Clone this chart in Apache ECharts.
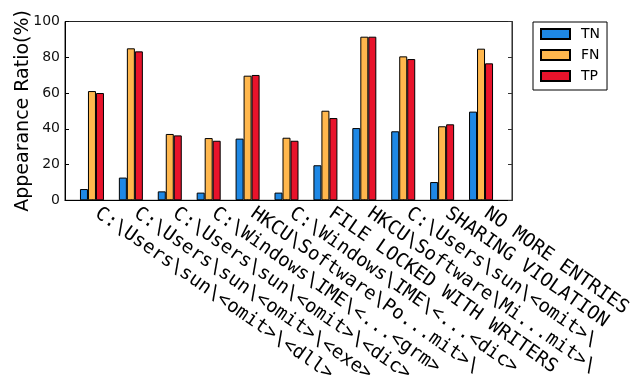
<!DOCTYPE html>
<html>
<head>
<meta charset="utf-8">
<script src="https://cdn.jsdelivr.net/npm/echarts@6/dist/echarts.min.js"></script>
<style>
  html, body { margin: 0; padding: 0; background: #fff; }
  #chart { width: 632px; height: 376px; }
</style>
</head>
<body>
<div id="chart"></div>
<script>
// Event targets (x axis categories)
const categories = [
  'C:\\Users\\sun\\<omit>\\<dll>',
  'C:\\Users\\sun\\<omit>\\<exe>',
  'C:\\Users\\sun\\<omit>\\<dic>',
  'C:\\Windows\\IME\\<...<grm>',
  'HKCU\\Software\\Po...mit>\\',
  'C:\\Windows\\IME\\<...<dic>',
  'FILE LOCKED WITH WRITERS',
  'HKCU\\Software\\Mi...mit>\\',
  'C:\\Users\\sun\\<omit>\\',
  'SHARING VIOLATION',
  'NO MORE ENTRIES'
];

// Appearance ratio (%) per outcome
const tnValues = [6.3, 12.7, 5.0, 4.3, 34.5, 4.3, 19.6, 40.4, 38.6, 10.2, 49.6];
const fnValues = [61.1, 85.0, 37.1, 34.8, 69.7, 35.0, 50.1, 91.5, 80.5, 41.4, 84.8];
const tpValues = [60.0, 83.3, 36.3, 33.3, 70.1, 33.3, 46.0, 91.5, 79.0, 42.5, 76.6];

// Y axis ticks
const yTicks = [0, 20, 40, 60, 80, 100];

const seriesNames = ['TN', 'FN', 'TP'];
const seriesColors = ['#1e88e5', '#ffb74d', '#e8132b'];
const seriesData = [tnValues, fnValues, tpValues];

const chart = echarts.init(document.getElementById('chart'), null, { renderer: 'canvas' });

const option = {
  animation: false,
  backgroundColor: '#ffffff',
  grid: [
    // frame + y axis
    { left: 65, right: 120, top: 21.5, bottom: 175.7, show: true, borderColor: '#222', borderWidth: 1,
      containLabel: false, outerBoundsMode: 'none' },
    // bars + category labels
    { left: 72.5, right: 131.5, top: 21.5, bottom: 175.7, containLabel: false, outerBoundsMode: 'none' }
  ],
  legend: {
    orient: 'vertical',
    left: 533,
    top: 22,
    padding: [5, 7, 7, 7],
    borderColor: '#000',
    borderWidth: 1,
    itemWidth: 29,
    itemHeight: 10,
    itemGap: 7,
    icon: 'rect',
    data: seriesNames,
    textStyle: {
      fontFamily: 'DejaVu Sans',
      fontSize: 14,
      lineHeight: 14,
      color: '#000',
      padding: [0, 0, 0, 6]
    }
  },
  xAxis: [
    {
      gridIndex: 0, type: 'category', data: categories,
      axisLine: { show: true, lineStyle: { color: '#000', width: 1 } },
      axisTick: { show: false }, axisLabel: { show: false }, splitLine: { show: false }
    },
    {
      gridIndex: 1, type: 'category', data: categories,
      axisLine: { show: false },
      axisTick: { show: true, inside: true, alignWithLabel: true, length: 3, lineStyle: { color: '#000' } },
      axisLabel: {
        interval: 0,
        rotate: -35,
        margin: 8,
        padding: [0, 0, 0, 6],
        fontFamily: 'DejaVu Sans Mono',
        fontSize: 19,
        color: '#000'
      },
      splitLine: { show: false }
    }
  ],
  yAxis: [
    {
      gridIndex: 0, type: 'value', min: yTicks[0], max: yTicks[yTicks.length - 1], interval: 20,
      name: 'Appearance Ratio(%)',
      nameLocation: 'middle',
      nameGap: 32,
      nameMoveOverlap: false,
      nameTextStyle: { fontFamily: 'DejaVu Sans', fontSize: 19, color: '#000' },
      axisLine: { show: true, lineStyle: { color: '#000' } },
      axisTick: { show: true, inside: true, length: 4, lineStyle: { color: '#000' } },
      axisLabel: { fontFamily: 'DejaVu Sans', fontSize: 14, color: '#111', margin: 5 },
      splitLine: { show: false }
    },
    {
      gridIndex: 0, type: 'value', position: 'right', min: yTicks[0], max: yTicks[yTicks.length - 1], interval: 20,
      axisLine: { show: true, lineStyle: { color: '#333' } },
      axisTick: { show: true, inside: true, length: 4, lineStyle: { color: '#333' } },
      axisLabel: { show: false },
      splitLine: { show: false }
    },
    {
      gridIndex: 1, type: 'value', min: yTicks[0], max: yTicks[yTicks.length - 1],
      show: false, splitLine: { show: false }
    }
  ],
  series: seriesNames.map((name, i) => ({
    name: name,
    type: 'bar',
    xAxisIndex: 1,
    yAxisIndex: 2,
    data: seriesData[i],
    barWidth: 8,
    barGap: '0%',
    itemStyle: { color: seriesColors[i], borderColor: '#000', borderWidth: 1 }
  }))
};

chart.setOption(option);
</script>
</body>
</html>
